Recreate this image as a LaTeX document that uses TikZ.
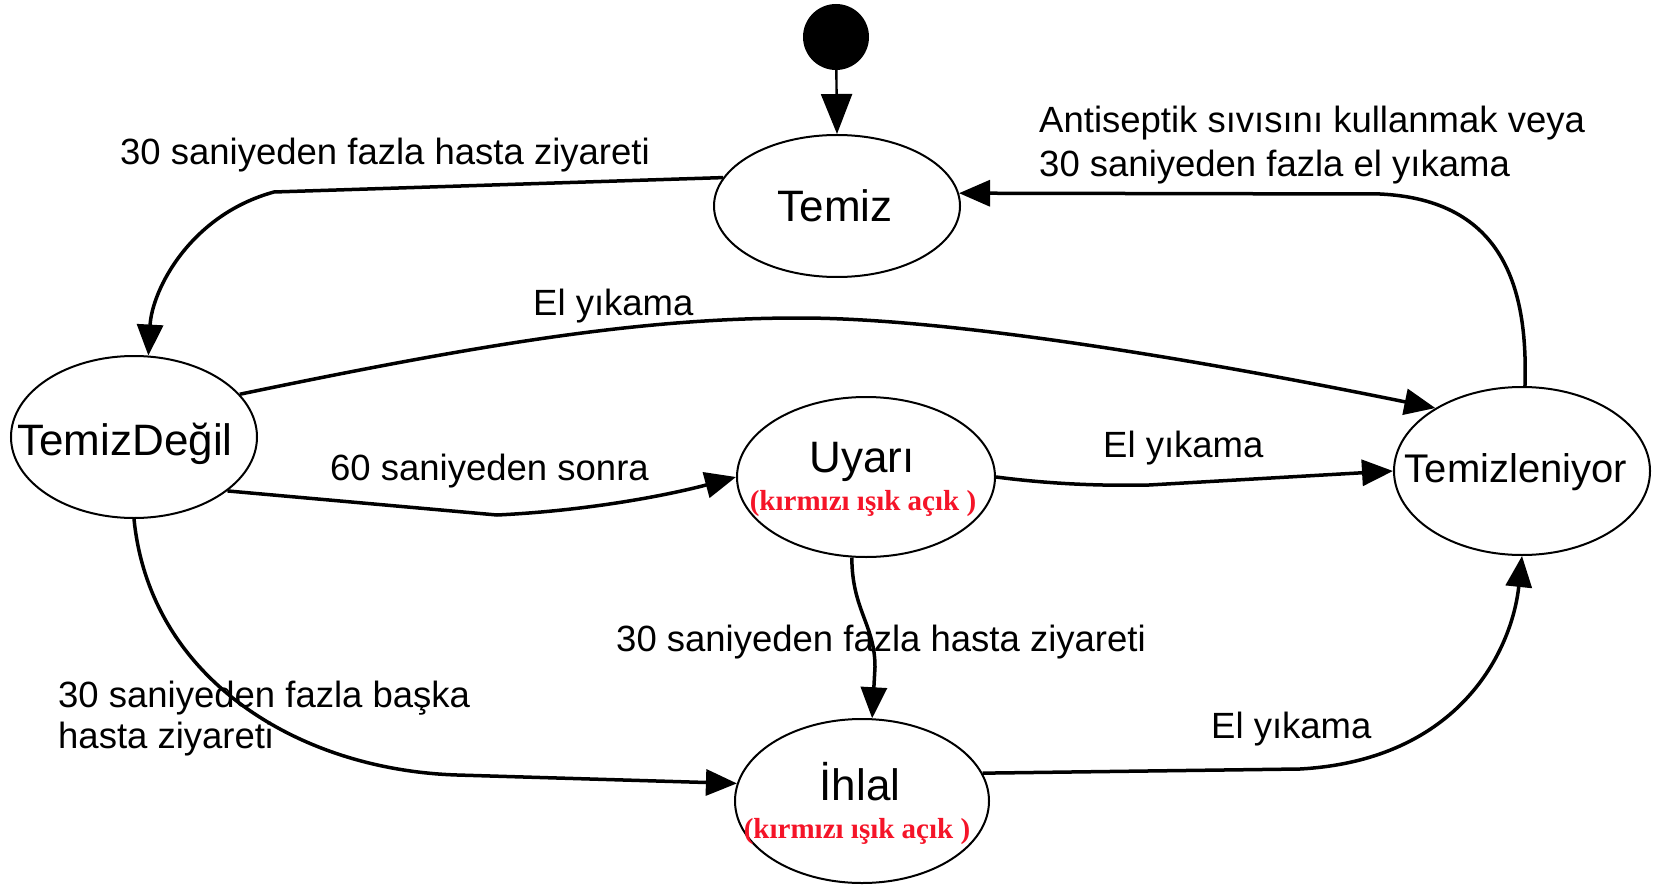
\documentclass[tikz,border=0pt]{standalone}
\usepackage{fontspec}
\setmainfont{Liberation Sans}
\newfontfamily\redserif{Liberation Serif}
\usetikzlibrary{arrows.meta,shapes.geometric}
\definecolor{warnred}{RGB}{245,20,40}
\tikzset{
  state/.style={draw, ellipse, line width=2pt, inner sep=0pt, fill=white},
  conn/.style={line width=3.5pt, -{Triangle[length=31pt,width=26pt]}},
  initarrow/.style={line width=2.4pt, -{Triangle[length=40pt,width=31pt]}},
  nodetxt/.style={inner sep=0pt, anchor=base, font=\fontsize{44}{50}\selectfont},
  redtxt/.style={inner sep=0pt, anchor=base, text=warnred, font=\redserif\bfseries\fontsize{29}{33}\selectfont},
  lbl/.style={inner sep=0pt, anchor=base west, font=\fontsize{36.5}{44}\selectfont},
}
\begin{document}
\begin{tikzpicture}[x=1pt,y=-1pt]
\useasboundingbox (0,0) rectangle (1659,885);
% states
\node[circle, fill=black, minimum size=66pt, inner sep=0pt] (dot) at (836,37) {};
\node[state, minimum width=246pt, minimum height=142pt] (tz) at (837,206) {};
\node[state, minimum width=246pt, minimum height=162pt] (td) at (134,437) {};
\node[state, minimum width=258pt, minimum height=160pt] (uy) at (866,477) {};
\node[state, minimum width=254pt, minimum height=164pt] (ih) at (862,801) {};
\node[state, minimum width=256pt, minimum height=168pt] (tl) at (1522,471) {};
% state texts
\node[nodetxt] (tzt) at (835,222) {Temiz};
\node[nodetxt] (tdt) at (125,455) {TemizDeğil};
\node[nodetxt] (uyt) at (862,472) {Uyarı};
\node[redtxt] (uyr) at (863,510) {(kırmızı ışık açık )};
\node[nodetxt] (iht) at (860,800) {İhlal};
\node[redtxt] (ihr) at (857,838) {(kırmızı ışık açık )};
\node[nodetxt, font=\fontsize{40}{46}\selectfont] (tlt) at (1516,482) {Temizleniyor};
% connectors
\draw[initarrow] (dot) -- (tz.north);
\draw[conn] (tz.166) -- (274,192) .. controls (190,215) and (152,290) .. (td.80);
\draw[conn] (td.22) .. controls (500,340) and (650,318) .. (800,318) .. controls (950,318) and (1200,360) .. (tl.144);
\draw[conn] (td.-30) -- (497,515) .. controls (600,510) and (680,492) .. (uy.west);
\draw[conn] (uy.east) .. controls (1050,484) and (1100,486) .. (1149,485) -- (tl.west);
\draw[conn] (uy.-100) .. controls (852,610) and (875,625) .. (875,667) -- (ih.83);
\draw[conn] (td.south) .. controls (150,680) and (300,770) .. (457,775) -- (ih.172);
\draw[conn] (ih.13) -- (1300,769) .. controls (1460,760) and (1512,650) .. (tl.south);
\draw[conn] (tl.88) .. controls (1528,290) and (1505,200) .. (1380,194) -- (tz.6);
% labels
\node[lbl] (l1) at (120,165) {30 saniyeden fazla hasta ziyareti};
\node[lbl] (l2a) at (1039,133) {Antiseptik sıvısını kullanmak veya};
\node[lbl] (l2b) at (1039,177) {30 saniyeden fazla el yıkama};
\node[lbl] (l3) at (533,315) {El yıkama};
\node[lbl] (l4) at (330,480) {60 saniyeden sonra};
\node[lbl] (l5) at (1103,457) {El yıkama};
\node[lbl] (l6) at (616,651) {30 saniyeden fazla hasta ziyareti};
\node[lbl] (l7a) at (58,707) {30 saniyeden fazla başka};
\node[lbl] (l7b) at (58,748) {hasta ziyareti};
\node[lbl] (l8) at (1211,738) {El yıkama};
\end{tikzpicture}
\end{document}
